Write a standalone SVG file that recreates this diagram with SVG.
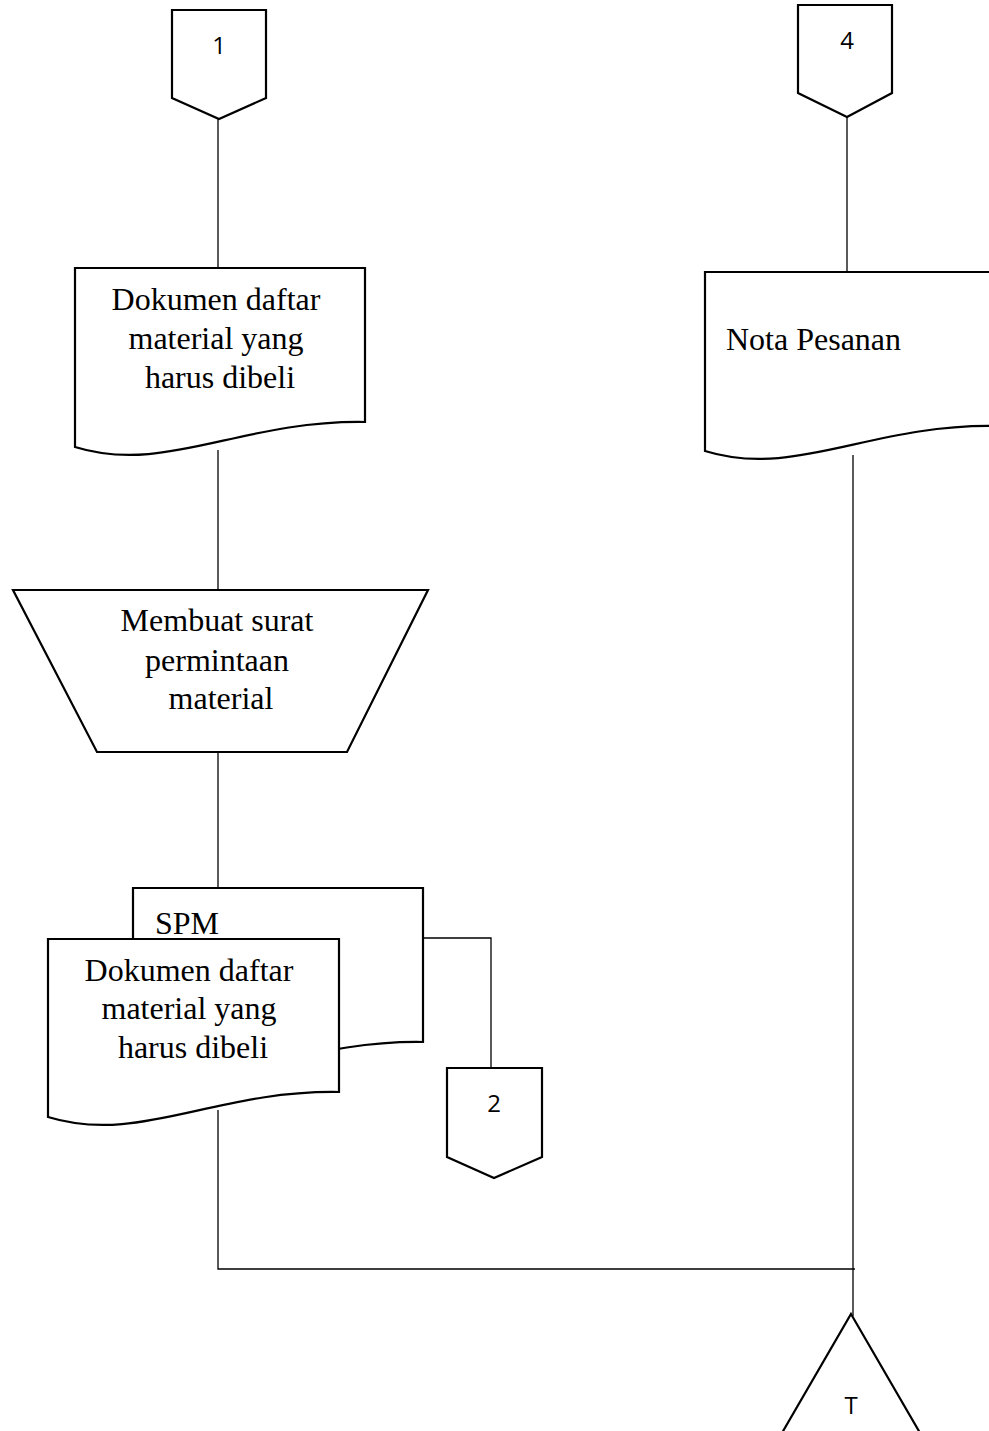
<svg xmlns="http://www.w3.org/2000/svg" width="989" height="1431" viewBox="0 0 989 1431">
  <style>
    .shape { fill: #ffffff; stroke: #000000; stroke-width: 2.2; stroke-linejoin: miter; }
    .link { fill: none; stroke: #000000; stroke-width: 1.3; }
    .serif { font-family: "Liberation Serif", "Times New Roman", serif; font-size: 32px; fill: #000000; }
    .sans { font-family: "Open Sans", "Liberation Sans", Arial, sans-serif; font-size: 24px; fill: #000000; }
  </style>

  <!-- connectors -->
  <g id="connectors">
    <line class="link" x1="218" y1="119" x2="218" y2="268"/>
    <line class="link" x1="218" y1="450" x2="218" y2="590"/>
    <line class="link" x1="218" y1="752" x2="218" y2="888"/>
    <polyline class="link" points="423,938 491,938 491,1068"/>
    <polyline class="link" points="218,1110 218,1269 855,1269"/>
    <line class="link" x1="847" y1="117" x2="847" y2="272"/>
    <line class="link" x1="853" y1="455" x2="853" y2="1316"/>
  </g>

  <!-- off-page connector 1 -->
  <g id="conn-1">
    <path class="shape" d="M172,10 H266 V98 L219,119 L172,98 Z"/>
    <text class="sans" x="219" y="54" text-anchor="middle">1</text>
  </g>

  <!-- off-page connector 4 -->
  <g id="conn-4">
    <path class="shape" d="M798,5 H892 V93 L847,117 L798,93 Z"/>
    <text class="sans" x="847" y="49" text-anchor="middle">4</text>
  </g>

  <!-- document: material list -->
  <g id="doc-daftar">
    <path class="shape" d="M75,268 H365 V422 C240,420 165,475 75,447 Z"/>
    <text class="serif" text-anchor="middle">
      <tspan x="220" y="310">Dokumen daftar</tspan>
      <tspan x="220" y="349">material yang</tspan>
      <tspan x="220" y="388">harus dibeli</tspan>
    </text>
  </g>

  <!-- document: order note -->
  <g id="doc-nota">
    <path class="shape" d="M705,272 H995 V426 C870,424 795,479 705,451 Z"/>
    <text class="serif" x="726" y="350">Nota Pesanan</text>
  </g>

  <!-- manual operation -->
  <g id="op-spm">
    <path class="shape" d="M13,590 H428 L347,752 H97 Z"/>
    <text class="serif" text-anchor="middle">
      <tspan x="221" y="631">Membuat surat</tspan>
      <tspan x="221" y="671">permintaan</tspan>
      <tspan x="221" y="709">material</tspan>
    </text>
  </g>

  <!-- document: SPM (back sheet) -->
  <g id="doc-spm">
    <path class="shape" d="M133,888 H423 V1042 C298,1040 223,1095 133,1067 Z"/>
    <text class="serif" x="155" y="934">SPM</text>
  </g>

  <!-- document: material list copy (front sheet) -->
  <g id="doc-daftar-copy">
    <path class="shape" d="M48,939 H339 V1092 C214,1090 139,1145 48,1117 Z"/>
    <text class="serif" text-anchor="middle">
      <tspan x="193" y="981">Dokumen daftar</tspan>
      <tspan x="193" y="1019">material yang</tspan>
      <tspan x="193" y="1058">harus dibeli</tspan>
    </text>
  </g>

  <!-- off-page connector 2 -->
  <g id="conn-2">
    <path class="shape" d="M447,1068 H542 V1157 L494,1178 L447,1157 Z"/>
    <text class="sans" x="494" y="1112" text-anchor="middle">2</text>
  </g>

  <!-- file (archive) -->
  <g id="archive-t">
    <path class="shape" d="M851,1314 L992,1557 H710 Z"/>
    <text class="sans" x="851" y="1414" text-anchor="middle">T</text>
  </g>
</svg>
